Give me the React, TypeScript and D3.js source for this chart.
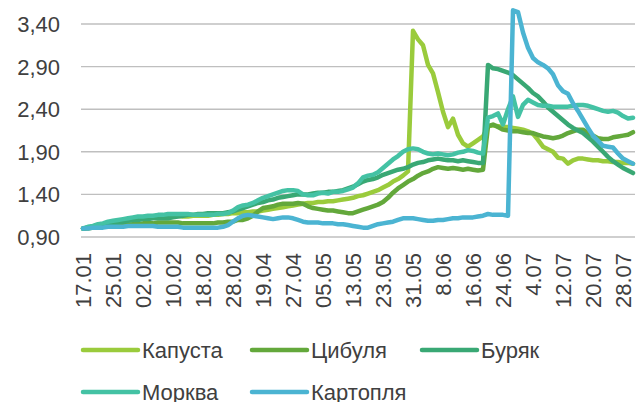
import React from 'react';
import * as d3 from 'd3';

const W = 639;
const H = 402;

const tickLabels = ['17.01', '25.01', '02.02', '10.02', '18.02', '28.02', '19.04', '27.04', '05.05', '13.05',
  '23.05', '31.05', '8.06', '16.06', '24.06', '4.07', '12.07', '20.07', '28.07'];
const pointsPerLabel = 6;
const yTicks = [0.9, 1.4, 1.9, 2.4, 2.9, 3.4];

const kapusta = [
  1.00, 1.01, 1.02, 1.03, 1.04, 1.05, 1.06, 1.07, 1.08, 1.09, 1.10, 1.11,
  1.12, 1.13, 1.14, 1.14, 1.15, 1.15, 1.15, 1.15, 1.14, 1.14, 1.15, 1.15,
  1.15, 1.15, 1.16, 1.16, 1.17, 1.17, 1.18, 1.18, 1.19, 1.19, 1.20, 1.20,
  1.21, 1.22, 1.23, 1.24, 1.25, 1.26, 1.27, 1.28, 1.29, 1.30, 1.30, 1.31,
  1.31, 1.32, 1.32, 1.33, 1.34, 1.35, 1.36, 1.38, 1.39, 1.41, 1.43, 1.45,
  1.48, 1.51, 1.55, 1.58, 1.62, 1.67, 3.32, 3.22, 3.15, 2.92, 2.82, 2.60,
  2.37, 2.19, 2.29, 2.10, 2.00, 1.96, 2.00, 2.04, 2.08, 2.20, 2.21, 2.20,
  2.19, 2.19, 2.18, 2.17, 2.16, 2.14, 2.11, 2.04, 1.96, 1.93, 1.90, 1.83,
  1.82, 1.76, 1.80, 1.82, 1.82, 1.81, 1.80, 1.80, 1.79, 1.79, 1.78, 1.78,
  1.77, 1.77, 1.76,
];
const tsybulia = [
  1.00, 1.00, 1.01, 1.01, 1.02, 1.02, 1.03, 1.03, 1.04, 1.04, 1.05, 1.05,
  1.06, 1.06, 1.06, 1.07, 1.07, 1.07, 1.07, 1.07, 1.06, 1.06, 1.06, 1.06,
  1.06, 1.06, 1.06, 1.07, 1.07, 1.08, 1.08, 1.10, 1.10, 1.12, 1.15, 1.20,
  1.24, 1.25, 1.26, 1.28, 1.29, 1.29, 1.29, 1.30, 1.29, 1.26, 1.24, 1.23,
  1.22, 1.21, 1.21, 1.20, 1.19, 1.18, 1.18, 1.20, 1.22, 1.24, 1.26, 1.28,
  1.31, 1.36, 1.42, 1.47, 1.51, 1.55, 1.58, 1.62, 1.65, 1.67, 1.70, 1.72,
  1.71, 1.70, 1.71, 1.70, 1.69, 1.70, 1.69, 1.68, 1.69, 2.20, 2.22, 2.19,
  2.16, 2.15, 2.14, 2.14, 2.13, 2.12, 2.12, 2.10, 2.08, 2.07, 2.06, 2.07,
  2.09, 2.12, 2.14, 2.16, 2.16, 2.12, 2.09, 2.06, 2.05, 2.05, 2.07, 2.08,
  2.09, 2.10, 2.13,
];
const buriak = [
  1.00, 1.01, 1.02, 1.03, 1.04, 1.05, 1.06, 1.07, 1.08, 1.09, 1.10, 1.10,
  1.11, 1.11, 1.12, 1.12, 1.12, 1.12, 1.13, 1.14, 1.15, 1.16, 1.16, 1.17,
  1.17, 1.18, 1.18, 1.18, 1.18, 1.19, 1.20, 1.22, 1.24, 1.26, 1.28, 1.30,
  1.31, 1.33, 1.34, 1.36, 1.37, 1.38, 1.39, 1.40, 1.40, 1.40, 1.41, 1.42,
  1.42, 1.43, 1.43, 1.44, 1.45, 1.47, 1.49, 1.52, 1.55, 1.57, 1.58, 1.60,
  1.63, 1.65, 1.67, 1.69, 1.70, 1.72, 1.75, 1.77, 1.78, 1.80, 1.81, 1.82,
  1.81, 1.80, 1.80, 1.79, 1.80, 1.79, 1.78, 1.77, 1.77, 2.92, 2.88, 2.87,
  2.85, 2.83, 2.80, 2.75, 2.70, 2.65, 2.59, 2.55, 2.49, 2.42, 2.37, 2.32,
  2.27, 2.22, 2.18, 2.15, 2.12, 2.07, 2.02, 1.96, 1.90, 1.84, 1.79, 1.75,
  1.71, 1.68, 1.65,
];
const morkva = [
  1.00, 1.02, 1.03, 1.05, 1.06, 1.08, 1.09, 1.10, 1.11, 1.12, 1.13, 1.14,
  1.14, 1.15, 1.15, 1.16, 1.16, 1.17, 1.17, 1.17, 1.17, 1.17, 1.16, 1.16,
  1.16, 1.16, 1.16, 1.17, 1.17, 1.18, 1.21, 1.25, 1.27, 1.28, 1.30, 1.33,
  1.36, 1.38, 1.40, 1.42, 1.44, 1.45, 1.45, 1.44, 1.40, 1.39, 1.39, 1.41,
  1.42, 1.41, 1.43, 1.43, 1.44, 1.46, 1.48, 1.53, 1.60, 1.62, 1.63, 1.66,
  1.71, 1.76, 1.81, 1.85, 1.90, 1.93, 1.94, 1.93, 1.90, 1.88, 1.87, 1.88,
  1.87, 1.86, 1.87, 1.89, 1.90, 1.92, 1.91, 1.89, 1.88, 2.30, 2.32, 2.35,
  2.22, 2.40, 2.55, 2.31, 2.45, 2.51, 2.48, 2.45, 2.44, 2.44, 2.43, 2.43,
  2.43, 2.43, 2.44, 2.45, 2.45, 2.44, 2.42, 2.40, 2.38, 2.37, 2.38, 2.36,
  2.32, 2.29, 2.30,
];
const kartoplia = [
  1.00, 1.00, 1.01, 1.01, 1.01, 1.02, 1.02, 1.02, 1.02, 1.03, 1.03, 1.03,
  1.03, 1.03, 1.03, 1.02, 1.02, 1.02, 1.02, 1.02, 1.01, 1.01, 1.01, 1.01,
  1.01, 1.01, 1.01, 1.01, 1.02, 1.04, 1.08, 1.12, 1.15, 1.16, 1.15, 1.14,
  1.13, 1.12, 1.11, 1.12, 1.13, 1.13, 1.12, 1.10, 1.08, 1.07, 1.07, 1.07,
  1.06, 1.06, 1.06, 1.05, 1.05, 1.04, 1.03, 1.02, 1.01, 1.01, 1.03, 1.05,
  1.06, 1.07, 1.08, 1.10, 1.12, 1.12, 1.12, 1.11, 1.10, 1.09, 1.09, 1.10,
  1.10, 1.11, 1.12, 1.12, 1.13, 1.13, 1.13, 1.14, 1.15, 1.17, 1.16, 1.16,
  1.16, 1.15, 3.56, 3.54, 3.30, 3.12, 3.00, 2.95, 2.92, 2.88, 2.81, 2.68,
  2.61, 2.58, 2.47, 2.38, 2.28, 2.18, 2.09, 2.03, 1.97, 1.96, 1.95, 1.88,
  1.82, 1.79, 1.76,
];

const seriesNames = ['Капуста', 'Цибуля', 'Буряк', 'Морква', 'Картопля'];
const seriesValues = [kapusta, tsybulia, buriak, morkva, kartoplia];
const seriesColors = ['#9acb3c', '#63a83b', '#39a874', '#44c2a4', '#4bb4d2'];

const FONT = 'Liberation Sans, Arial, sans-serif';
const TEXT = '#404040';

export default function App() {
  const nPoints = kapusta.length;
  const x = d3.scaleLinear().domain([0, nPoints - 1]).range([83, 633]);
  const y = d3.scaleLinear().domain([0.9, 3.4]).range([237, 24]);
  const line = d3.line<number>().x((d, i) => x(i)).y(d => y(d));
  const fmt = (v: number) => v.toFixed(2).replace('.', ',');

  // legend layout: two rows
  const legendPos = [
    { x: 83, y: 350 }, { x: 252, y: 350 }, { x: 422, y: 350 },
    { x: 83, y: 392 }, { x: 252, y: 392 },
  ];

  return (
    <svg width={W} height={H} style={{ position: 'absolute', left: 0, top: 0, background: '#fff' }}
      fontFamily={FONT}>
      {yTicks.map(t => (
        <g key={t}>
          <line x1={81} x2={635} y1={y(t)} y2={y(t)} stroke="#bfbfbf" strokeWidth={1.4} />
          <text x={60} y={y(t)} dy="0.36em" textAnchor="end" fontSize={22} fill={TEXT}>{fmt(t)}</text>
        </g>
      ))}
      {tickLabels.map((lbl, i) => {
        const xi = x(i * pointsPerLabel);
        return (
          <text key={lbl} transform={`translate(${xi},253) rotate(-90)`} dy="0.36em"
            textAnchor="end" fontSize={22} fill={TEXT}>{lbl}</text>
        );
      })}
      {seriesValues.map((vals, s) => (
        <path key={seriesNames[s]} d={line(vals) || ''} fill="none" stroke={seriesColors[s]}
          strokeWidth={4.5} strokeLinejoin="round" strokeLinecap="round" />
      ))}
      {seriesNames.map((name, s) => (
        <g key={name}>
          <line x1={legendPos[s].x} x2={legendPos[s].x + 55} y1={legendPos[s].y} y2={legendPos[s].y}
            stroke={seriesColors[s]} strokeWidth={4.5} strokeLinecap="round" />
          <text x={legendPos[s].x + 59} y={legendPos[s].y} dy="0.36em" fontSize={22} fill={TEXT}>{name}</text>
        </g>
      ))}
    </svg>
  );
}
